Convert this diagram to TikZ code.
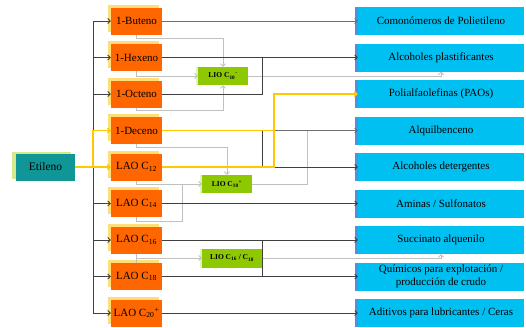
\documentclass[tikz,border=0pt]{standalone}
\usepackage{fontspec}
\setmainfont{Liberation Serif}
\usetikzlibrary{arrows.meta,shadows}
\definecolor{laoorange}{RGB}{255,102,0}
\definecolor{laoshade}{RGB}{255,222,120}
\definecolor{prodblue}{RGB}{0,192,242}
\definecolor{prodshade}{RGB}{85,142,222}
\definecolor{liogreen}{RGB}{142,200,0}
\definecolor{lioshade}{RGB}{222,242,196}
\definecolor{etiteal}{RGB}{16,150,150}
\definecolor{etishade}{RGB}{212,232,140}
\definecolor{lineyellow}{RGB}{255,200,0}
\definecolor{linedark}{RGB}{64,64,64}
\definecolor{linemid}{RGB}{112,112,112}
\definecolor{linelight}{RGB}{192,192,192}
\tikzset{
  etibox/.style={fill=etiteal,minimum width=59pt,minimum height=27pt,inner sep=0pt,
    font=\fontsize{11.5}{13}\selectfont,
    general shadow={fill=etishade,shadow xshift=-4pt,shadow yshift=2pt}},
  laobox/.style={fill=laoorange,minimum width=51pt,minimum height=27pt,inner sep=0pt,
    font=\fontsize{11}{13}\selectfont,
    general shadow={fill=laoshade,shadow xshift=-3pt,shadow yshift=3pt}},
  prodbox/.style={fill=prodblue,minimum width=166pt,minimum height=28pt,inner sep=0pt,
    align=center,font=\fontsize{11}{13}\selectfont,
    general shadow={fill=prodshade,shadow xshift=-3pt,shadow yshift=0pt}},
  liobox/.style={fill=liogreen,minimum height=18pt,inner sep=0pt,
    font=\fontsize{7.5}{9}\selectfont\bfseries,
    general shadow={fill=lioshade,shadow xshift=-2pt,shadow yshift=0pt}},
  tip/.style={-{Straight Barb[length=2.5pt,width=5pt]}},
  dk/.style={draw=linedark,line width=0.8pt},
  md/.style={draw=linemid,line width=0.8pt},
  lt/.style={draw=linelight,line width=0.8pt},
  ye/.style={draw=lineyellow,line width=1.4pt},
}
\begin{document}
\begin{tikzpicture}[x=1pt,y=-1pt]
\useasboundingbox (0,0) rectangle (526,327);
%Etileno
\node[etibox] (eti) at (45.5,167) {Etileno};
%LAO
\node[laobox] (c4) at (136.5,21) {1-Buteno};
\node[laobox] (c6) at (136.5,57.5) {1-Hexeno};
\node[laobox] (c8) at (136.5,94) {1-Octeno};
\node[laobox] (c10) at (136.5,130.5) {1-Deceno};
\node[laobox] (c12) at (136.5,167) {LAO C\textsubscript{12}};
\node[laobox] (c14) at (136.5,203.5) {LAO C\textsubscript{14}};
\node[laobox] (c16) at (136.5,240) {LAO C\textsubscript{16}};
\node[laobox] (c18) at (136.5,276.5) {LAO C\textsubscript{18}};
\node[laobox] (c20) at (136.5,313) {LAO C\textsubscript{20}\textsuperscript{+}};
%LIO
\node[liobox,minimum width=50pt] (lioA) at (223,76) {LIO C\textsubscript{10}\textsuperscript{-}};
\node[liobox,minimum width=50pt] (lioB) at (227,184) {LIO C\textsubscript{10}\textsuperscript{+}};
\node[liobox,minimum width=60pt,minimum height=19pt] (lioC) at (232,258) {LIO C\textsubscript{16} / C\textsubscript{18}};
%productos
\node[prodbox] (pe) at (441,21) {Comonómeros de Polietileno};
\node[prodbox] (plast) at (441,57.5) {Alcoholes plastificantes};
\node[prodbox] (pao) at (441,94) {Polialfaolefinas (PAOs)};
\node[prodbox] (lab) at (441,130.5) {Alquilbenceno};
\node[prodbox] (deter) at (441,167) {Alcoholes detergentes};
\node[prodbox] (amin) at (441,203.5) {Aminas / Sulfonatos};
\node[prodbox] (succ) at (441,240) {Succinato alquenilo};
\node[prodbox] (crudo) at (441,276.5) {Químicos para explotación /\\producción de crudo};
\node[prodbox] (lub) at (441,313) {Aditivos para lubricantes / Ceras};

\coordinate (tk) at (93,167);
\coordinate (ja) at (262,0);
\coordinate (jb) at (274,0);
\coordinate (jc) at (307,0);
\coordinate (jd) at (182,0);

%tronco
\draw[dk] (tk |- c4) -- (tk |- c20);
\draw[dk,tip] (tk |- c4) -- (c4.west);
\draw[dk,tip] (tk |- c6) -- (c6.west);
\draw[dk,tip] (tk |- c8) -- (c8.west);
\draw[dk,tip] (tk |- c14) -- (c14.west);
\draw[dk,tip] (tk |- c16) -- (c16.west);
\draw[dk,tip] (tk |- c18) -- (c18.west);
\draw[dk,tip] (tk |- c20) -- (c20.west);

%LIO (gris claro)
\draw[lt,tip] (c4.south) -- ++(0,4) -| (lioA.north);
\draw[lt,tip] (c6.south) |- (lioA.west);
\draw[lt,tip] (c8.south) -- ++(0,3) -| (lioA.south);
\draw[lt,tip] (lioA.east) -| (plast.south);
\draw[lt,tip] (c10.south) -- ++(0,3) -| (lioB.north);
\draw[lt,tip] (c12.south) |- (lioB.west);
\draw[lt] (c14.south) -- ++(0,4) -| (jd |- lioB);
\draw[lt] (lioB.east) -| (jc |- lab);
\draw[lt] (c16.south) -- (c18.north);
\draw[lt,tip] (c16.south |- lioC) -- (lioC.west);
\draw[lt,tip] (lioC.east) -| (succ.south);

%salidas
\draw[md,tip] (c4) -- (pe);
\draw[dk,tip] (c6) -- (plast);
\draw[dk] (c8.east) -| (ja |- c6);
\draw[dk] (c10.east) -- (jb |- c10);
\draw[md,tip] (jb |- c10) -- (lab.west);
\draw[dk] (ja |- c10) -- (ja |- c12);
\draw[dk,tip] (c12) -- (deter);
\draw[dk,tip] (c14) -- (amin);
\draw[dk,tip] (c16) -- (succ);
\draw[dk,tip] (c18) -- (crudo);
\draw[dk] (ja |- c16) -- (ja |- c18);
\draw[dk,tip] (c20) -- (lub);

%amarillo
\draw[ye,tip] (eti) -- (c12);
\draw[ye,tip] (tk) |- (c10.west);
\draw[ye] (c10.east) -- (jb |- c10);
\draw[ye,tip] (c12.east) -- (jb |- c12) |- (pao.west);
\end{tikzpicture}
\end{document}
